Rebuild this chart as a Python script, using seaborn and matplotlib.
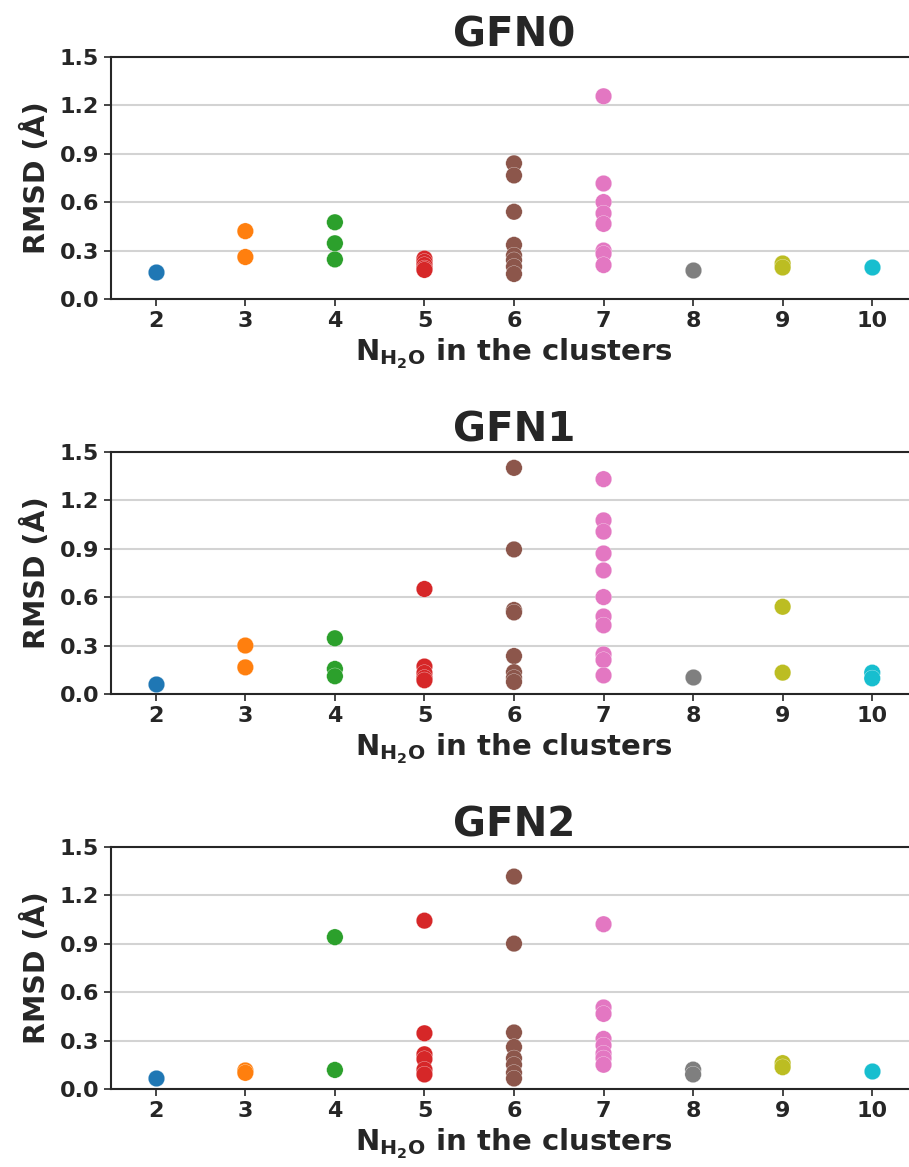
import matplotlib
matplotlib.use("Agg")
import matplotlib.pyplot as plt
import seaborn as sns
import pandas as pd

# ---- data ----
clusters = [2, 3, 4, 5, 6, 7, 8, 9, 10]
methods = ["GFN0", "GFN1", "GFN2"]

gfn0 = {
    2: [0.17],
    3: [0.42, 0.26],
    4: [0.475, 0.345, 0.245],
    5: [0.25, 0.23, 0.21, 0.19, 0.18],
    6: [0.84, 0.765, 0.54, 0.335, 0.27, 0.24, 0.2, 0.155],
    7: [1.255, 0.715, 0.60, 0.53, 0.465, 0.30, 0.28, 0.21],
    8: [0.18],
    9: [0.22, 0.195],
    10: [0.20],
}
gfn1 = {
    2: [0.065],
    3: [0.30, 0.165],
    4: [0.345, 0.155, 0.11],
    5: [0.65, 0.17, 0.13, 0.10, 0.085],
    6: [1.40, 0.895, 0.52, 0.505, 0.235, 0.135, 0.10, 0.075],
    7: [1.33, 1.075, 1.005, 0.87, 0.765, 0.60, 0.48, 0.425, 0.245, 0.21, 0.115],
    8: [0.107],
    9: [0.54, 0.132],
    10: [0.132, 0.097],
}
gfn2 = {
    2: [0.07],
    3: [0.115, 0.10],
    4: [0.94, 0.118],
    5: [1.042, 0.345, 0.215, 0.185, 0.12, 0.09],
    6: [1.315, 0.90, 0.35, 0.26, 0.19, 0.15, 0.10, 0.065],
    7: [1.02, 0.505, 0.465, 0.31, 0.27, 0.22, 0.19, 0.15],
    8: [0.12, 0.09],
    9: [0.16, 0.135],
    10: [0.112],
}
yticks = [0.0, 0.3, 0.6, 0.9, 1.2, 1.5]

# ---- style ----
sns.set_style("ticks")
plt.rcParams["font.family"] = ["DejaVu Sans"]
plt.rcParams["font.weight"] = "bold"
plt.rcParams["mathtext.fontset"] = "dejavusans"

tab = sns.color_palette("tab10")
pal_idx = [0, 1, 2, 3, 5, 6, 7, 8, 9]
palette = {str(c): tab[i] for c, i in zip(clusters, pal_idx)}
order = [str(c) for c in clusters]

fig = plt.figure(figsize=(9.09, 11.67), dpi=100)
left = 111 / 909
width = 806 / 909
height = 242.3 / 1167
bottoms = [1 - 299 / 1167, 1 - 694 / 1167, 1 - 1089 / 1167]

for name, data, bot in zip(methods, [gfn0, gfn1, gfn2], bottoms):
    ax = fig.add_axes([left, bot, width, height])
    rows = [(str(k), v) for k in clusters for v in data[k]]
    df = pd.DataFrame(rows, columns=["n", "rmsd"])
    sns.stripplot(data=df, x="n", y="rmsd", hue="n", order=order,
                  hue_order=order, palette=palette, jitter=False,
                  size=11.9, linewidth=0.2, edgecolor="white",
                  legend=False, ax=ax, zorder=3)
    ax.set_xlim(-0.5, 8.5)
    ax.set_ylim(0, 1.5)
    ax.set_yticks(yticks)
    ax.set_yticklabels([f"{t:.1f}" for t in yticks])
    ax.yaxis.grid(True, color="#d3d3d3", linewidth=1.5, zorder=0)
    ax.set_axisbelow(True)
    for s in ax.spines.values():
        s.set_color("#262626")
        s.set_linewidth(1.5)
    ax.tick_params(axis="both", labelsize=16, length=5, width=1.2,
                   color="#262626", labelcolor="#262626")
    for lab in ax.get_xticklabels() + ax.get_yticklabels():
        lab.set_fontweight("bold")
    ax.set_title(name, fontsize=29, fontweight="bold", color="#262626", pad=7)
    ax.set_ylabel("RMSD (Å)", fontsize=20.5, fontweight="bold",
                  color="#262626", labelpad=6)
    ax.set_xlabel(r"$\mathbf{N_{H_2O}}$ in the clusters", fontsize=21,
                  fontweight="bold", color="#262626", labelpad=4)

fig.savefig("out.png", dpi=100)
